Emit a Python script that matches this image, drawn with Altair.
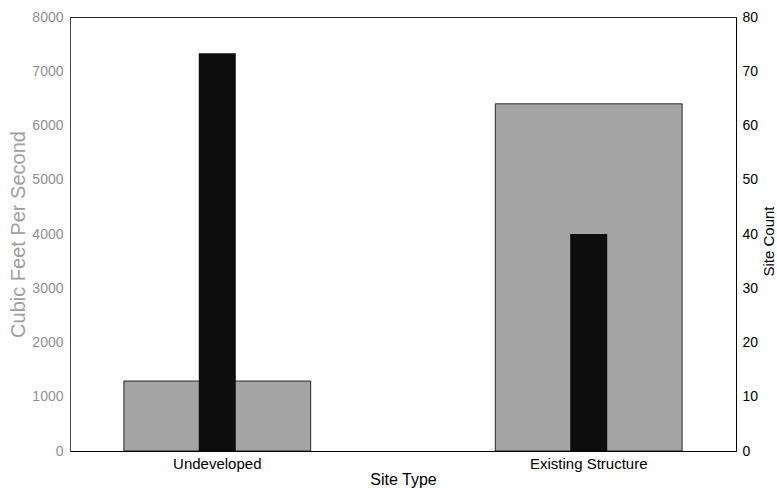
import altair as alt
import pandas as pd

site_types = ["Undeveloped", "Existing Structure"]
site_count = [12.9, 64.0]
cfs = [7330, 4000]
cfs_ticks = [0, 1000, 2000, 3000, 4000, 5000, 6000, 7000, 8000]
count_ticks = [0, 10, 20, 30, 40, 50, 60, 70, 80]

df = pd.DataFrame({"site": site_types, "count": site_count, "cfs": cfs})

FONT = "Liberation Sans"

xenc = alt.X(
    "site:N",
    sort=site_types,
    title="Site Type",
    scale=alt.Scale(paddingInner=0.497, paddingOuter=0.145),
    axis=alt.Axis(labelAngle=0, ticks=False, labelPadding=5, titlePadding=0,
                  labelFontSize=15, titleFontSize=16, labelColor="black",
                  titleColor="black", titleFontWeight="normal",
                  labelFont=FONT, titleFont=FONT, domainColor="black"),
)

gray = alt.Chart(df).mark_bar(color="#a4a4a4", stroke="black", strokeWidth=0.8).encode(
    x=xenc,
    y=alt.Y("count:Q", title="Site Count",
            scale=alt.Scale(domain=[0, 80], nice=False),
            axis=alt.Axis(orient="right", values=count_ticks, ticks=False, grid=False,
                          format="d",
                          labelPadding=6, labelFontSize=14, titleFontSize=15,
                          labelColor="black", titleColor="black", titleFontWeight="normal",
                          titleAngle=270, titleX=37, titleY=224, titleAlign="center",
                          titleBaseline="alphabetic",
                          labelFont=FONT, titleFont=FONT, domainColor="black")),
)

black = alt.Chart(df).mark_bar(size=37, color="#0d0d0d").encode(
    x=xenc,
    y=alt.Y("cfs:Q", title="Cubic Feet Per Second",
            scale=alt.Scale(domain=[0, 8000], nice=False),
            axis=alt.Axis(orient="left", values=cfs_ticks, ticks=False, grid=False,
                          format="d",
                          labelPadding=7, labelFontSize=14, titleFontSize=20,
                          labelColor="#8f8f8f", titleColor="#a0a0a0", titleFontWeight="normal",
                          titleAngle=270, titleX=-46, titleY=217, titleAlign="center",
                          titleBaseline="alphabetic",
                          labelFont=FONT, titleFont=FONT, domainColor="#444444")),
)

chart = alt.layer(gray, black).resolve_scale(y="independent").properties(
    width=666,
    height=434,
    background="white",
    autosize=alt.AutoSizeParams(type="none"),
    padding={"left": 70, "top": 17, "right": 41, "bottom": 37},
).configure_view(stroke="#222222", strokeWidth=1)

chart.save("out.html", embed_options={"renderer": "svg", "actions": False})
